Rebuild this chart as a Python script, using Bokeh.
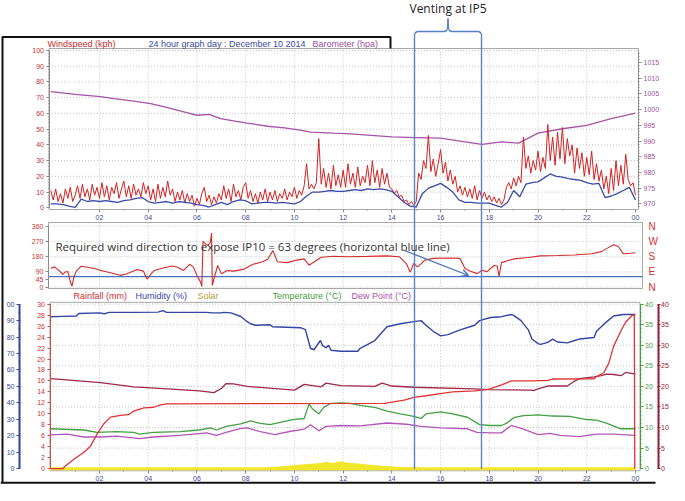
from bokeh.plotting import figure
from bokeh.models import Range1d, LinearAxis, FixedTicker, Label, Arrow, OpenHead
from bokeh.embed import file_html
from bokeh.resources import INLINE

# ------------------------------------------------------------------ data
hour_ticks = [2, 4, 6, 8, 10, 12, 14, 16, 18, 20, 22, 24]
hour_labels = ["02", "04", "06", "08", "10", "12", "14", "16", "18", "20", "22", "00"]
hour_minor = [1, 3, 5, 7, 9, 11, 13, 15, 17, 19, 21, 23]

# wind gust (kph), one value every 0.1 h
gust_kph = [
    11, 5, 12, 4, 9, 3, 12, 6, 13, 4,
    8, 14, 6, 15, 7, 12, 5, 15, 8, 13,
    6, 16, 7, 14, 5, 13, 9, 16, 6, 12,
    17, 7, 14, 6, 15, 8, 12, 7, 16, 9,
    14, 5, 12, 4, 15, 6, 13, 7, 17, 8,
    12, 4, 10, 5, 11, 3, 9, 4, 8, 1,
    6, 2, 9, 13, 4, 8, 2, 7, 3, 9,
    5, 14, 6, 12, 4, 15, 7, 11, 5, 13,
    16, 6, 11, 4, 9, 3, 10, 5, 12, 4,
    10, 5, 11, 4, 9, 6, 12, 5, 10, 7,
    13, 6, 11, 8, 14, 28, 12, 15, 12, 16,
    44, 15, 25, 13, 22, 12, 27, 14, 21, 13,
    24, 13, 28, 15, 22, 13, 26, 14, 20, 16,
    27, 14, 30, 16, 24, 13, 25, 15, 22, 13,
    12, 9, 11, 7, 8, 4, 5, 2, 4, 1.5,
    4, 22, 18, 30, 25, 46, 23, 31, 20, 28,
    37, 22, 29, 17, 24, 15, 20, 10, 14, 8,
    13, 7, 12, 6, 14, 5, 11, 6, 10, 5,
    8, 4, 7, 3, 6, 2, 5, 13, 16, 12,
    19, 14, 20, 16, 45, 25, 33, 22, 30, 24,
    36, 23, 32, 25, 53, 30, 45, 27, 48, 31,
    51, 28, 44, 33, 40, 22, 38, 25, 35, 20,
    32, 21, 36, 18, 28, 17, 24, 12, 20, 9,
    25, 11, 30, 14, 27, 15, 34, 18, 14, 16,
    8,
]
gust_hours = [i / 10 for i in range(len(gust_kph))]

# average wind speed (kph), one value every 0.25 h
avg_kph = [
    2.5, 2.5, 2.0, 1.0,   0.3, 5.5, 4.0, 4.5,   4.0, 4.5, 4.0, 3.5,
    4.5, 5.0, 6.0, 6.5,   4.0, 3.0, 3.5, 4.0,   3.0, 4.0, 3.5, 3.0,
    2.0, 1.5, 0.5, 2.0,   3.5, 2.0, 4.0, 5.0,   4.5, 2.5, 3.0, 3.5,
    3.5, 3.0, 3.5, 3.0,   2.5, 4.0, 7.5, 10.0,  10.0, 10.5, 11.0, 10.5,
    10.5, 11.0, 11.5, 11.0, 12.0, 11.5, 12.0, 11.5, 10.5, 7.0, 3.5, 1.0,
    0.5, 9.0, 12.5, 14.0, 15.5, 13.0, 10.0, 5.0, 3.5, 3.5, 3.0, 3.0,
    3.0, 1.5, 0.5, 3.5,   11.0, 7.0, 15.0, 16.0, 16.5, 19.0, 21.5, 20.0,
    19.5, 18.5, 18.0, 17.5, 16.0, 15.0, 15.5, 6.5, 7.5, 9.0, 11.0, 13.0,
    5.0,
]
avg_hours = [i / 4 for i in range(len(avg_kph))]

# barometer (hpa)
barometer = [
    (0.0, 1005.7), (1.1, 1004.8), (2.04, 1004.1), (2.6, 1003.5), (3.4, 1002.7),
    (4.1, 1001.9), (4.8, 1000.6), (5.5, 999.2), (6.0, 998.2), (6.5, 998.5),
    (6.97, 997.1), (7.5, 996.4), (8.06, 995.7), (8.9, 994.7), (9.6, 994.2),
    (10.3, 993.4), (10.66, 992.8), (11.6, 992.5), (12.3, 992.3), (14.0, 991.3),
    (15.0, 991.1), (16.0, 990.9), (17.0, 989.7), (17.7, 988.9), (18.5, 989.7),
    (19.2, 989.3), (20.0, 992.5), (21.0, 993.9), (22.0, 995.0), (23.0, 997.1),
    (24.0, 998.9),
]

# wind direction (degrees)
wind_dir = [
    (0.0, 112), (0.15, 120), (0.33, 99), (0.5, 75), (0.6, 90), (0.7, 93), (0.8, 35),
    (0.87, 6), (0.95, 60), (1.05, 95), (1.25, 124), (1.5, 118), (1.8, 110), (2.05, 99),
    (2.45, 85), (2.85, 70), (3.1, 78), (3.55, 104), (3.8, 95), (3.95, 48), (4.1, 75),
    (4.25, 99), (4.65, 115), (5.0, 125), (5.2, 118), (5.45, 99), (5.7, 135), (5.85, 120),
    (6.0, 69), (6.15, 30), (6.2, 5), (6.25, 270), (6.35, 255), (6.45, 246), (6.55, 265),
    (6.6, 320), (6.63, 10), (6.68, 40), (6.85, 128), (7.0, 80), (7.25, 98), (7.5, 95),
    (7.9, 105), (8.3, 135), (8.7, 150), (8.9, 165), (9.12, 216), (9.3, 150), (9.7, 145),
    (10.1, 160), (10.4, 167), (10.6, 130), (11.1, 177), (11.6, 183), (12.2, 180),
    (13.0, 182), (13.8, 185), (14.3, 180), (14.6, 138), (14.75, 89), (14.9, 140),
    (15.05, 120), (15.2, 138), (15.35, 160), (15.7, 170), (16.3, 172), (16.8, 170),
    (17.0, 110), (17.2, 95), (17.5, 80), (17.7, 100), (17.9, 92), (18.2, 128),
    (18.32, 125), (18.4, 65), (18.5, 145), (19.0, 167), (19.6, 175), (20.1, 185),
    (20.8, 187), (21.5, 190), (22.2, 197), (22.6, 210), (22.9, 235), (23.1, 250),
    (23.3, 240), (23.5, 197), (23.8, 200), (24.0, 203),
]
required_dir = 63

# bottom panel
humidity = [
    (0.0, 92.4), (0.5, 92.6), (1.05, 92.8), (1.15, 94.3), (2.0, 94.7), (2.2, 94.2),
    (2.4, 95.0), (3.5, 95.0), (4.4, 95.2), (4.6, 96.1), (4.75, 95.0), (6.4, 95.0),
    (6.6, 94.7), (7.0, 94.7), (7.1, 95.0), (7.4, 94.7), (7.8, 92.5), (8.05, 89.5),
    (8.2, 88.1), (8.4, 87.2), (9.0, 87.5), (9.1, 86.3), (10.25, 85.7), (10.45, 84.5),
    (10.66, 73.2), (10.8, 72.3), (11.07, 77.9), (11.15, 75.0), (11.3, 73.5), (11.4, 75.0),
    (11.5, 72.0), (11.9, 71.4), (12.6, 71.4), (12.7, 73.2), (13.3, 77.9), (13.8, 86.3),
    (14.35, 88.1), (14.9, 89.4), (15.2, 90.0), (15.4, 87.2), (15.7, 83.5), (16.0, 80.7),
    (16.3, 81.5), (16.8, 84.4), (17.4, 87.2), (17.6, 90.0), (18.05, 91.9), (18.5, 92.4),
    (18.9, 93.7), (19.0, 93.2), (19.3, 90.0), (19.6, 84.4), (19.75, 78.8), (20.0, 76.0),
    (20.1, 75.6), (20.4, 76.8), (20.6, 78.8), (20.8, 77.0), (21.2, 76.5), (21.5, 77.9),
    (21.7, 78.8), (22.3, 79.7), (22.4, 83.5), (22.8, 89.1), (23.1, 92.8), (23.5, 93.7),
    (24.0, 93.7),
]
rainfall = [
    (0.0, 0.0), (0.5, 0.0), (0.55, 0.3), (0.95, 1.7), (1.36, 3.0), (1.63, 4.1), (1.9, 6.3),
    (2.18, 8.2), (2.45, 9.4), (2.86, 9.7), (3.2, 9.85), (3.4, 10.5), (3.82, 11.1),
    (4.23, 11.2), (4.5, 11.65), (4.77, 11.8), (8.0, 11.85), (13.7, 11.9), (14.5, 12.5),
    (14.9, 13.0), (15.4, 13.3), (16.0, 13.7), (16.5, 14.0), (17.4, 14.2), (17.9, 14.4),
    (18.05, 14.6), (18.5, 15.3), (18.9, 16.0), (19.8, 16.0), (20.4, 16.1), (20.6, 16.35),
    (22.3, 16.4), (22.4, 16.8), (22.7, 17.5), (22.9, 19.2), (23.1, 22.3), (23.4, 25.1),
    (23.6, 26.75), (23.85, 27.9), (23.95, 28.15), (23.97, 0.0),
]
temperature = [
    (0.0, 9.7), (1.36, 9.4), (1.9, 8.8), (2.7, 9.0), (3.4, 8.8), (3.65, 8.4), (4.2, 8.8),
    (5.3, 9.0), (6.1, 9.4), (6.55, 9.9), (6.8, 9.4), (7.2, 10.3), (7.8, 10.9), (8.2, 11.6),
    (8.6, 11.0), (9.0, 10.7), (9.6, 11.5), (10.0, 12.0), (10.4, 12.2), (10.6, 15.7),
    (10.75, 14.5), (11.0, 13.3), (11.2, 14.9), (11.5, 15.9), (11.9, 16.0), (12.3, 15.9),
    (12.7, 15.4), (13.3, 14.9), (13.8, 14.0), (14.35, 13.3), (14.9, 12.7), (15.2, 12.2),
    (15.4, 13.3), (16.0, 13.8), (16.5, 13.3), (17.1, 12.5), (17.6, 10.7), (18.05, 10.5),
    (18.5, 10.5), (18.7, 11.0), (19.0, 12.4), (19.4, 12.9), (20.0, 13.1), (20.6, 12.8),
    (21.3, 12.7), (22.0, 11.95), (22.4, 11.8), (22.8, 11.05), (23.4, 9.7), (24.0, 9.7),
]
dew_point = [
    (0.0, 8.2), (0.67, 8.4), (1.36, 7.7), (2.04, 7.7), (2.7, 7.9), (3.65, 7.3), (4.2, 7.7),
    (5.3, 8.1), (6.4, 8.7), (6.8, 8.1), (7.2, 8.8), (7.8, 9.8), (8.06, 9.9), (8.6, 9.0),
    (9.2, 8.3), (9.85, 9.1), (10.4, 9.6), (10.66, 10.7), (11.0, 9.2), (11.3, 10.3),
    (11.9, 10.5), (12.7, 10.4), (13.8, 11.1), (14.6, 10.8), (15.2, 10.3), (16.0, 9.9),
    (17.1, 9.7), (17.5, 8.8), (18.05, 8.7), (18.5, 8.7), (18.9, 10.5), (19.4, 9.6),
    (20.0, 8.3), (20.5, 8.6), (20.9, 8.1), (21.7, 7.8), (22.4, 8.4), (23.1, 8.4), (24.0, 8.1),
]
indoor_temp = [
    (0.0, 21.9), (2.04, 20.9), (3.4, 19.9), (4.8, 19.4), (6.1, 18.9), (6.7, 18.5), (7.0, 19.5),
    (7.2, 20.7), (7.5, 20.6), (8.06, 20.0), (10.0, 19.1), (10.4, 20.5), (11.1, 19.9),
    (11.3, 20.8), (11.9, 20.2), (13.3, 20.0), (13.6, 20.8), (14.0, 20.1), (14.9, 19.8),
    (17.4, 19.4), (18.0, 19.2), (19.7, 19.1), (19.8, 19.0), (20.1, 19.6), (20.4, 20.1),
    (21.2, 20.1), (21.5, 21.3), (21.7, 21.9), (22.3, 22.3), (22.6, 22.6), (22.8, 23.0),
    (23.1, 22.9), (23.4, 22.6), (23.6, 23.4), (24.0, 23.0),
]
solar = [
    (0.0, 0), (8.5, 0), (9.0, 8), (9.5, 15), (10.0, 20), (10.5, 28), (11.0, 33), (11.3, 40),
    (11.6, 35), (11.9, 45), (12.1, 38), (12.5, 33), (13.0, 25), (13.6, 17), (14.2, 12),
    (14.6, 7), (15.0, 5), (15.5, 2), (16.0, 0), (24.0, 0),
]

wind_ticks = list(range(0, 101, 10))
baro_ticks = list(range(970, 1016, 5))
dir_ticks = [0, 45, 90, 180, 270, 360]
compass = {0: "N", 90: "E", 180: "S", 270: "W", 360: "N"}
rain_ticks = list(range(0, 31, 2))
hum_ticks = list(range(0, 101, 10))
temp_ticks = list(range(0, 41, 5))


def split(pairs):
    return [a for a, _ in pairs], [b for _, b in pairs]


# ------------------------------------------------------------------ layout (canvas pixels)
W, H = 669, 485
RH = 501.0
X0, XS = 50.27, 24.364          # x pixel of hour 0 and px per hour


def Y(y):
    """reference y pixel -> canvas y pixel (bottom part squeezed to fit)"""
    return y if y <= 300 else 300 + (y - 300) * (H - 300) / (RH - 300)


TOP = dict(l=48.5, r=638.0, t=48.0, b=209.0)
MID = dict(l=48.0, r=642.0, t=222.0, b=288.0)
BOT = dict(l=49.5, r=639.5, t=Y(302.0), b=Y(485.0))


def rng(v0, y0, v1, y1):
    m = (v1 - v0) / (y1 - y0)
    return Range1d(start=v0 + (H - y0) * m, end=v0 + (0 - y0) * m)


p = figure(width=W, height=H, output_backend="svg", toolbar_location=None,
           x_range=Range1d((0 - X0) / XS, (W - X0) / XS), y_range=Range1d(H, 0),
           x_axis_type=None, y_axis_type=None, min_border=0,
           outline_line_color=None, background_fill_color="white",
           border_fill_color="white")
p.extra_x_ranges = {"px": Range1d(0, W)}
p.extra_y_ranges = {
    "wind": rng(0, 207.3, 100, 50.0),
    "baro": rng(970, 203.3, 1015, 62.0),
    "dir": rng(0, 286.7, 360, 225.7),
    "rain": rng(0, Y(482.7), 30, Y(304.0)),
    "hum": rng(0, Y(482.7), 100, Y(304.0)),
    "temp": rng(0, Y(482.7), 40, Y(304.0)),
    "solar": rng(0, Y(482.7), 1000, Y(304.0)),
}

GRID = dict(line_color="#c4c4c4", line_dash="1 2", line_width=1)
FONT = "Liberation Sans"


def grid(box, yname, yvals):
    xs = [h for h in hour_ticks if h < 24]
    p.segment(x0=xs, x1=xs, y0=[box["t"]] * len(xs), y1=[box["b"]] * len(xs), **GRID)
    p.segment(x0=[box["l"]] * len(yvals), x1=[box["r"]] * len(yvals), y0=yvals, y1=yvals,
              x_range_name="px", y_range_name=yname, **GRID)


def box(b, color="#a8a8a8"):
    p.quad(left=[b["l"]], right=[b["r"]], top=[b["t"]], bottom=[b["b"]],
           fill_color=None, line_color=color, line_width=1, x_range_name="px")


def yaxis(side, yname, loc, ticks, minor, bounds, color, line_color="#8a8a8a",
          line_width=1, overrides=None, size="7px", tick_out=3, tick_in=0, standoff=2,
          show_ticks=True, show_line=True):
    ax = LinearAxis(y_range_name=yname, x_range_name="px", fixed_location=loc,
                    bounds=bounds, ticker=FixedTicker(ticks=ticks, minor_ticks=minor))
    ax.major_label_text_color = color
    ax.major_label_text_font = FONT
    ax.major_label_text_font_size = size
    ax.major_label_standoff = standoff
    ax.axis_line_color = line_color if show_line else None
    ax.axis_line_width = line_width
    ax.major_tick_line_color = line_color if show_ticks else None
    ax.minor_tick_line_color = line_color if show_ticks else None
    ax.major_tick_out = tick_out
    ax.major_tick_in = tick_in
    ax.minor_tick_out = 1
    ax.minor_tick_in = 0
    if overrides:
        ax.major_label_overrides = overrides
    p.add_layout(ax, side)


def xaxis(loc):
    ax = LinearAxis(fixed_location=loc, bounds=(0, 24),
                    ticker=FixedTicker(ticks=hour_ticks, minor_ticks=hour_minor))
    ax.major_label_overrides = dict(zip(hour_ticks, hour_labels))
    ax.major_label_text_color = "#3c4a9c"
    ax.major_label_text_font = FONT
    ax.major_label_text_font_size = "7px"
    ax.major_label_standoff = 2
    ax.axis_line_color = None
    ax.major_tick_line_color = "#8a8a8a"
    ax.minor_tick_line_color = "#8a8a8a"
    ax.major_tick_out = 3
    ax.major_tick_in = 0
    ax.minor_tick_out = 1
    ax.minor_tick_in = 0
    p.add_layout(ax, "below")


def label(x, y, text, color, size="9px", font=FONT, align="left"):
    p.add_layout(Label(x=x, y=y, text=text, x_range_name="px", text_color=color,
                       text_font=font, text_font_size=size, text_align=align,
                       text_baseline="middle"))


# ------------------------------------------------------------------ top panel: wind + barometer
grid(TOP, "wind", wind_ticks[1:])
box(TOP)
bh, bv = split(barometer)
p.line(bh, bv, y_range_name="baro", line_color="#a653a8", line_width=1.3)
p.line(gust_hours, gust_kph, y_range_name="wind", line_color="#d42222", line_width=1.0)
p.line(avg_hours, avg_kph, y_range_name="wind", line_color="#3a4aa8", line_width=1.3)
yaxis("left", "wind", TOP["l"], wind_ticks, list(range(0, 101, 2)), (0, 100), "#c83232")
yaxis("right", "baro", TOP["r"], baro_ticks, list(range(969, 1019)), (969, 1018.6), "#a050a0")
xaxis(TOP["b"])
label(47, 43, "Windspeed (kph)", "#cc2a2a")
label(148, 43, "24 hour graph day : December 10 2014", "#3a4aa8")
label(312, 43, "Barometer (hpa)", "#a050a0")

# ------------------------------------------------------------------ middle panel: wind direction
grid(MID, "dir", [0, 90, 180, 270, 360])
box(MID)
p.segment(x0=[MID["l"]], x1=[MID["r"]], y0=[required_dir], y1=[required_dir],
          x_range_name="px", y_range_name="dir", line_color="#4a70c0", line_width=1.2)
dh, dv = split(wind_dir)
p.line(dh, dv, y_range_name="dir", line_color="#d42a2a", line_width=1.1)
yaxis("left", "dir", MID["l"], dir_ticks, [], (0, 360), "#c83232")
yaxis("right", "dir", MID["r"], list(compass.keys()), [], (0, 360), "#e03030",
      overrides=compass, size="10px", show_ticks=False, show_line=False, standoff=3)
label(55, 246, "Required wind direction to expose IP10 = 63 degrees (horizontal blue line)",
      "#333333", size="11.5px", font="Open Sans")
p.add_layout(Arrow(x_start=404, y_start=250, x_end=468, y_end=275, x_range_name="px",
                   line_color="#4a70c0", line_width=1.3,
                   end=OpenHead(size=7, line_color="#4a70c0", line_width=1.3)))

# ------------------------------------------------------------------ bottom panel
grid(BOT, "temp", temp_ticks[1:])
box(BOT)
sh, sv = split(solar)
p.varea(x=sh, y1=[0] * len(sv), y2=sv, y_range_name="solar", fill_color="#f2e62a")
p.line([0, 24], [0, 0], y_range_name="solar", line_color="#f2e62a", line_width=3)
hh, hv = split(humidity)
p.line(hh, hv, y_range_name="hum", line_color="#3444a4", line_width=1.4)
ih, iv = split(indoor_temp)
p.line(ih, iv, y_range_name="temp", line_color="#a02848", line_width=1.3)
th, tv = split(temperature)
p.line(th, tv, y_range_name="temp", line_color="#44a044", line_width=1.3)
dph, dpv = split(dew_point)
p.line(dph, dpv, y_range_name="temp", line_color="#b456b8", line_width=1.3)
rh_, rv = split(rainfall)
p.line(rh_, rv, y_range_name="rain", line_color="#e03434", line_width=1.3)

yaxis("left", "rain", BOT["l"], rain_ticks, list(range(0, 31)), (0, 30), "#d03030",
      line_color="#d05050")
yaxis("left", "hum", 19, hum_ticks, list(range(0, 101, 5)), (0, 100), "#3444a4",
      line_color="#3444a4", line_width=2, overrides={100: "00"}, tick_in=1)
yaxis("right", "temp", BOT["r"], temp_ticks, list(range(0, 41)), (0, 40), "#44a044",
      line_color="#44a044")
yaxis("right", "temp", 657.5, temp_ticks, list(range(0, 41)), (0, 40), "#902038",
      line_color="#902038", line_width=2, tick_in=1, tick_out=2, standoff=1)
xaxis(BOT["b"])

label(73, 295, "Rainfall (mm)", "#d03030")
label(135, 295, "Humidity (%)", "#3a4aa8")
label(197, 295, "Solar", "#b0a040")
label(272, 295, "Temperature (\u00b0C)", "#44a044")
label(351, 295, "Dew Point (\u00b0C)", "#b050b0")

# ------------------------------------------------------------------ screenshot frame + annotations
p.line([2, 2, 390, 390], [Y(498), 36.5, 36.5, 48], x_range_name="px",
       line_color="#111111", line_width=2)
p.line([0, 655], [Y(498), Y(498)], x_range_name="px", line_color="#111111", line_width=2)

bracket_xs = [[414, 414, 415, 417, 444, 446, 447, 447.5],
              [481, 481, 480, 478, 451, 449, 448, 447.5]]
bracket_ys = [[Y(483), 34, 32, 31, 31, 30, 28, 18],
              [Y(483), 34, 32, 31, 31, 30, 28, 18]]
p.multi_line(bracket_xs, bracket_ys, x_range_name="px", line_color="#5a80c8", line_width=1.4)
label(447.5, 8, "Venting at IP5", "#222222", size="12px", font="Open Sans", align="center")

open("out.html", "w").write(file_html(p, INLINE))
